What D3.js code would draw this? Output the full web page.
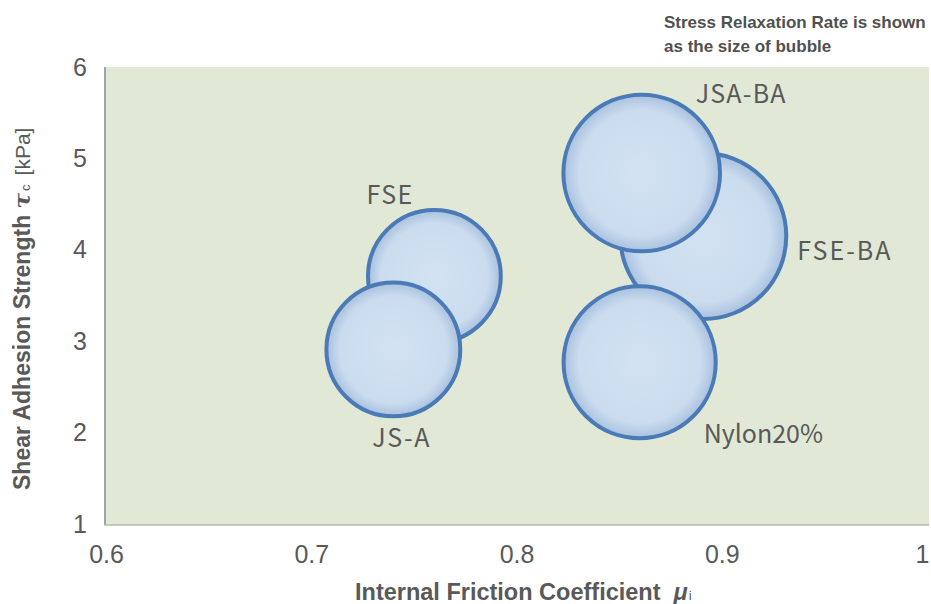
<!DOCTYPE html>
<html>
<head>
<meta charset="utf-8">
<script src="https://cdn.jsdelivr.net/npm/d3@7"></script>
<style>
  html, body { margin: 0; padding: 0; background: #ffffff; }
  svg { display: block; }
</style>
</head>
<body>
<svg id="chart" width="931" height="604"></svg>
<script>
// ---- data (draw order) ----
const names = ["FSE", "JS-A", "FSE-BA", "JSA-BA", "Nylon20%"];
const frictionCoeff = [0.76, 0.74, 0.891, 0.861, 0.86];      // x: internal friction coefficient μi
const shearStrength = [3.71, 2.91, 4.15, 4.84, 2.77];        // y: shear adhesion strength τc [kPa]
const relaxationRate = [64, 65, 100, 89, 84];                 // bubble size (relative)
const xTickValues = [0.6, 0.7, 0.8, 0.9, 1.0];
const xTickLabels = ["0.6", "0.7", "0.8", "0.9", "1"];
const yTickValues = [1, 2, 3, 4, 5, 6];
const yTickLabels = ["1", "2", "3", "4", "5", "6"];

// ---- layout / style ----
const W = 931, H = 604;
const plot = { left: 106, right: 927, top: 67, bottom: 524 };
const labelFont = "'Noto Sans CJK JP', 'Noto Sans', sans-serif";
const axisFont = "'Liberation Sans', Arial, sans-serif";
const textColor = "#595959";
// label offsets relative to bubble centre (start x, baseline y)
const labelOffsets = {
  "FSE": [-68, -72],
  "JS-A": [-21, 98],
  "FSE-BA": [94, 24],
  "JSA-BA": [54, -70],
  "Nylon20%": [64, 81]
};
const labelSpacing = {
  "FSE": 1.5, "JS-A": 1.5, "FSE-BA": 2, "JSA-BA": 1.2, "Nylon20%": 0
};

const svg = d3.select("#chart");

const x = d3.scaleLinear().domain([0.6, 1.0]).range([plot.left, plot.right]);
const y = d3.scaleLinear().domain([1, 6]).range([plot.bottom, plot.top]);
const r = d3.scaleSqrt().domain([0, 100]).range([0, 83]);

// gradient for bubbles
const defs = svg.append("defs");
const grad = defs.append("radialGradient").attr("id", "bubbleGrad")
  .attr("cx", "50%").attr("cy", "50%").attr("r", "50%");
grad.append("stop").attr("offset", "0%").attr("stop-color", "#d2e2f2");
grad.append("stop").attr("offset", "80%").attr("stop-color", "#cbdcef");
grad.append("stop").attr("offset", "100%").attr("stop-color", "#a8c0de");

// plot background
svg.append("rect")
  .attr("x", plot.left).attr("y", plot.top)
  .attr("width", 929 - plot.left).attr("height", plot.bottom - plot.top + 1)
  .attr("fill", "#e1e8d6");

// border lines
svg.append("line")
  .attr("x1", plot.left - 1).attr("x2", plot.left - 1)
  .attr("y1", plot.top).attr("y2", plot.bottom + 1)
  .attr("stroke", "#a3a3a3").attr("stroke-width", 2);
svg.append("line")
  .attr("x1", plot.left - 2).attr("x2", 929)
  .attr("y1", plot.bottom + 1).attr("y2", plot.bottom + 1)
  .attr("stroke", "#b4b8ac").attr("stroke-width", 1.5);

// axes
const yAxis = d3.axisLeft(y).tickValues(yTickValues)
  .tickFormat((d, i) => yTickLabels[i]).tickSize(0).tickPadding(19);
const gy = svg.append("g").attr("transform", `translate(${plot.left},0)`).call(yAxis);
gy.select(".domain").remove();
gy.selectAll("text").attr("font-family", axisFont).attr("font-size", 25).attr("fill", textColor);

const xAxis = d3.axisBottom(x).tickValues(xTickValues)
  .tickFormat((d, i) => xTickLabels[i]).tickSize(0).tickPadding(21);
const gx = svg.append("g").attr("transform", `translate(0,${plot.bottom})`).call(xAxis);
gx.select(".domain").remove();
gx.selectAll("text").attr("font-family", axisFont).attr("font-size", 25).attr("fill", textColor);
// keep the last label ("1") inside the picture
gx.selectAll(".tick").filter((d, i) => i === xTickValues.length - 1)
  .select("text").attr("text-anchor", "end").attr("dx", 2);

// bubbles
const data = names.map((n, i) => ({
  name: n, fx: frictionCoeff[i], sy: shearStrength[i], size: relaxationRate[i]
}));

svg.append("g").selectAll("circle").data(data).join("circle")
  .attr("cx", d => x(d.fx))
  .attr("cy", d => y(d.sy))
  .attr("r", d => r(d.size))
  .attr("fill", "url(#bubbleGrad)")
  .attr("stroke", "#4a7bb7")
  .attr("stroke-width", 4);

// labels
svg.append("g").selectAll("text").data(data).join("text")
  .attr("x", d => x(d.fx) + labelOffsets[d.name][0])
  .attr("y", d => y(d.sy) + labelOffsets[d.name][1])
  .attr("font-family", labelFont)
  .attr("font-size", 25)
  .attr("letter-spacing", d => labelSpacing[d.name])
  .attr("fill", textColor)
  .text(d => d.name);

// x axis title
const xt = svg.append("text")
  .attr("x", 355).attr("y", 600)
  .attr("font-family", axisFont).attr("font-size", 23.5).attr("font-weight", "bold")
  .attr("fill", textColor);
xt.append("tspan").text("Internal Friction Coefficient");
xt.append("tspan").attr("dx", 13).attr("font-style", "italic").text("μ");
xt.append("tspan").attr("font-size", 13).attr("font-weight", "normal").attr("dx", 1).text("i");

// y axis title
const yt = svg.append("text")
  .attr("transform", "translate(30,490) rotate(-90)")
  .attr("font-family", axisFont).attr("font-size", 23).attr("font-weight", "bold")
  .attr("fill", textColor);
yt.append("tspan").text("Shear Adhesion Strength ");
yt.append("tspan").attr("font-style", "italic").attr("font-family", "'DejaVu Serif', serif").text("τ");
yt.append("tspan").attr("font-size", 13).attr("font-weight", "normal").attr("dx", 2).text("c");
yt.append("tspan").attr("font-weight", "normal").attr("font-size", 21).attr("dx", 9).text("[kPa]");

// note
const note = svg.append("text")
  .attr("font-family", axisFont).attr("font-size", 17).attr("font-weight", "bold")
  .attr("fill", "#505050");
note.append("tspan").attr("x", 664).attr("y", 28).text("Stress Relaxation Rate is shown");
note.append("tspan").attr("x", 664).attr("y", 52).text("as the size of bubble");
</script>
</body>
</html>
